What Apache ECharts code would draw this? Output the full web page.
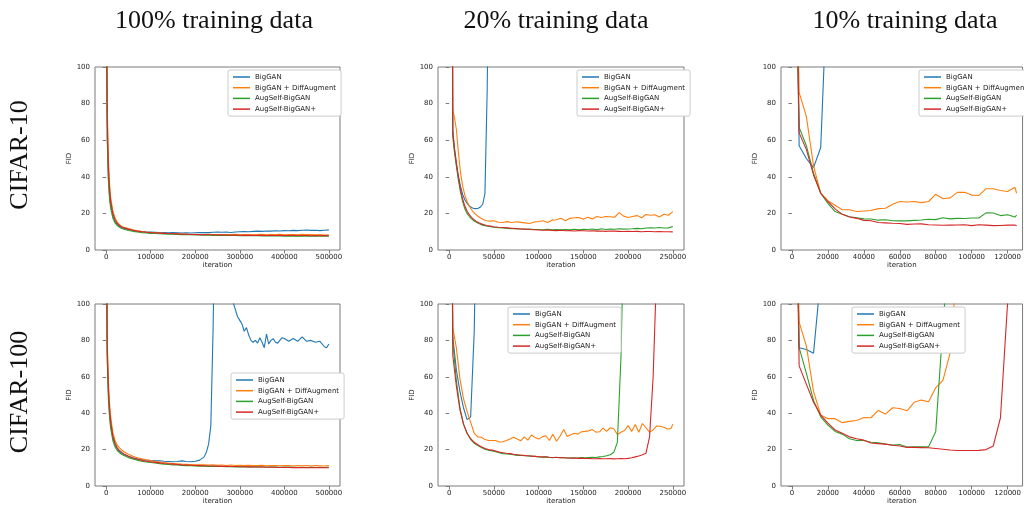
<!DOCTYPE html>
<html><head><meta charset="utf-8">
<script src="https://cdn.jsdelivr.net/npm/echarts@6/dist/echarts.min.js"></script>
<style>html,body{margin:0;padding:0;background:#fff}#c{width:1024px;height:506px}</style>
</head><body><div id="c"></div>
<script>
// ---------------- labels ----------------
const seriesNames = ['BigGAN', 'BigGAN + DiffAugment', 'AugSelf-BigGAN', 'AugSelf-BigGAN+'];
const seriesColors = ['#1f77b4', '#ff7f0e', '#2ca02c', '#d62728'];
const colTitles = ['100% training data', '20% training data', '10% training data'];
const rowTitles = ['CIFAR-10', 'CIFAR-100'];
const yTicks = [0, 20, 40, 60, 80, 100];
const xTicks100 = [0, 100000, 200000, 300000, 400000, 500000];
const xTicks20 = [0, 50000, 100000, 150000, 200000, 250000];
const xTicks10 = [0, 20000, 40000, 60000, 80000, 100000, 120000];

// ---------------- iterations ----------------
const iterFull = [0,2500,5000,7500,10000,15000,20000,25000,30000,35000,40000,50000,60000,70000,80000,90000,
  100000,110000,120000,130000,140000,150000,160000,170000,180000,190000,200000,210000,220000,230000,240000,
  250000,260000,270000,280000,290000,300000,310000,320000,330000,340000,350000,360000,370000,380000,390000,
  400000,410000,420000,430000,440000,450000,460000,470000,480000,490000,500000];
const iterFullBig100 = [0,2500,5000,7500,10000,15000,20000,25000,30000,35000,40000,50000,60000,70000,80000,90000,
  100000,110000,120000,130000,140000,150000,160000,170000,180000,190000,200000,
  210000,220000,225000,230000,235000,240000,245000,250000,260000,270000,280000,
  285000,290000,295000,300000,305000,310000,315000,320000,325000,330000,335000,340000,345000,350000,355000,
  360000,365000,370000,375000,380000,385000,390000,395000,400000,
  410000,420000,430000,440000,450000,460000,470000,480000,490000,495000,500000];
const iter20c10 = [2000,4000,6000,8000,10000,12500,15000,17500,20000,22500,25000,27500,30000,32500,35000,37500,40000,42500,45000,
  50000,55000,60000,65000,70000,75000,80000,85000,90000,95000,100000,105000,110000,115000,120000,125000,130000,
  135000,140000,145000,150000,155000,160000,165000,170000,175000,180000,185000,190000,195000,200000,205000,210000,
  215000,220000,225000,230000,235000,240000,245000,250000];
const iter20c100 = [0,4000,8000,12000,16000,20000,24000,28000,32000,36000,40000,44000,48000,52000,56000,60000,64000,
  68000,72000,76000,80000,84000,88000,92000,96000,100000,104000,108000,112000,116000,120000,124000,128000,132000,
  136000,140000,144000,148000,152000,156000,160000,164000,168000,172000,176000,180000,184000,188000,192000,196000,
  200000,204000,208000,212000,216000,220000,224000,228000,232000,236000,240000,244000,248000,250000];
const iter10 = [0,4000,8000,12000,16000,20000,24000,28000,32000,36000,40000,44000,48000,52000,56000,60000,64000,
  68000,72000,76000,80000,84000,88000,92000,96000,100000,104000,108000,112000,116000,120000,124000,125000];

// ---------------- CIFAR-10, 100% ----------------
const c10_100_bigGAN = [160,62,40,30,24.5,18.5,15.5,14,13,12.3,11.8,11.2,10.7,10.3,10.1,9.9,
  9.8,9.7,9.6,9.6,9.4,9.5,9.4,9.3,9.4,9.3,9.4,9.5,9.6,9.5,9.7,9.8,9.7,9.8,9.6,9.8,10.0,10.1,10.0,10.2,10.3,
  10.2,10.4,10.3,10.5,10.4,10.6,10.5,10.7,10.6,10.8,10.9,10.7,10.8,10.6,10.8,11.0];
const c10_100_diff = [160,78,50,37,29,21.5,17.5,15.2,13.8,12.9,12.4,11.7,11.1,10.5,10.1,9.8,
  9.6,9.4,9.3,9.1,9.0,8.9,8.8,8.6,8.7,8.5,8.6,8.4,8.5,8.6,8.4,8.5,8.3,8.5,8.4,8.6,8.3,8.4,8.5,8.3,8.4,
  8.6,8.3,8.5,8.4,8.6,8.3,8.4,8.5,8.3,8.6,8.4,8.5,8.3,8.4,8.2,8.3];
const c10_100_aug = [160,60,38,28.5,23,17.5,14.8,13.3,12.4,11.8,11.3,10.7,10.2,9.8,9.5,9.3,
  9.1,9.0,8.9,8.8,8.7,8.6,8.5,8.4,8.4,8.3,8.2,8.2,8.1,8.2,8.0,8.1,8.0,7.9,8.0,7.9,7.8,7.9,7.8,7.9,7.8,
  7.7,7.8,7.7,7.8,7.7,7.6,7.7,7.6,7.7,7.6,7.7,7.6,7.5,7.6,7.5,7.6];
const c10_100_augPlus = [160,72,46,34,27,20,16.5,14.5,13.4,12.6,12.1,11.4,10.8,10.3,10.0,9.7,
  9.5,9.4,9.2,9.1,9.0,8.9,8.8,8.7,8.6,8.5,8.5,8.4,8.4,8.3,8.3,8.2,8.3,8.2,8.1,8.2,8.1,8.0,8.1,8.0,8.1,
  8.0,7.9,8.0,7.9,8.0,7.9,7.9,8.0,7.8,7.9,7.9,7.8,7.9,7.8,7.9,7.8];

// ---------------- CIFAR-10, 20% ----------------
const c10_20_bigGAN = [400,66,55,47,41,35,30.5,27.5,25.5,24,23.2,22.7,22.6,22.8,23.5,25,31,88,200];
const c10_20_diff = [400,77,72,66,55,43,35,30,26.5,24,22,20.5,19.3,18.3,17.5,16.8,16.3,16,15.8,
  16,15.2,15,15.5,15,15.4,15.1,14.8,14.5,15.3,15.6,16,15,16.3,16.5,17.3,16,17.3,17.6,17.8,
  16.8,17.9,17,18.3,17.8,18.3,18.2,17.9,20.4,18.5,17.8,18.3,18.8,17.6,19.4,19,19.3,18,19.5,19,21];
const c10_20_aug = [400,62,53,46,39,32,26.5,22.5,20,18.3,17,16,15.3,14.6,14,13.6,13.3,13,12.8,
  12.4,12.2,12,11.8,11.7,11.6,11.5,11.3,11.4,11.2,11.2,11.1,11.3,11.1,11.2,11,11.2,11.1,11.3,11,
  11.3,11.2,11.5,11,11.6,11.2,11.4,11.3,11.6,11.4,11.5,11.6,11.8,11.6,12,12.1,12,12.3,12,12.1,12.8];
const c10_20_augPlus = [400,64,55,48,41,33.5,28,24,21.3,19.3,17.8,16.7,15.8,15,14.5,14,13.7,13.4,13.2,
  12.7,12.4,12.3,12.1,11.9,11.7,11.5,11.4,11.2,11.1,10.9,10.8,10.9,10.7,10.6,10.8,10.5,10.6,10.4,10.6,
  10.5,10.4,10.5,10.3,10.4,10.2,10.4,10.3,10.2,10.1,10.2,10.1,10.2,10,10.1,10.1,10,10.1,10,10,9.9];

// ---------------- CIFAR-10, 10% ----------------
const c10_10_bigGAN = [300,57,50,45,56,154];
const c10_10_diff = [300,86,73,46,31,27,24.5,22,22,21,21.3,21.6,22.6,22.8,25,26.5,26.2,26.5,25.9,26.5,
  30.5,28,28.5,31.5,31.5,30,29.8,33.5,33.5,32.5,32,34.3,31];
const c10_10_aug = [300,67,57,42,31,25.5,21,19.5,18.2,17.6,17,16.9,16.3,16.5,16,15.9,15.9,16.2,16.4,16.8,
  16.6,17.6,17,17.3,17.2,17.5,17.5,20.3,20.2,18.8,19.3,18,19];
const c10_10_augPlus = [300,64,55,41,31,26.5,22.5,19.5,18,17.3,16.2,16,15,14.8,14.6,14.5,14,14.2,14.3,13.8,
  13.7,13.5,13.6,13.7,13.8,13.3,13.8,13.6,13.3,13.4,13.6,13.6,13.2];

// ---------------- CIFAR-100, 100% ----------------
const c100_100_bigGAN = [160,72,52,41,34,26.5,22.5,20.5,19,18,17.3,16.3,15.5,14.9,14.5,14.2,
  14,13.8,13.9,13.6,13.5,13.3,13.5,13.8,13.5,13.3,13.6,
  14.2,16,18.5,23,33,85,160,220,230,190,120,
  101,97,93,91,89,85,87,83,80,79,80,78.5,81.5,79,76,83.5,78,80,81,79,78.5,80,81.5,81,
  79.5,81,79.5,82,79.5,80,79,79.5,76.5,76,78];
const c100_100_diff = [160,80,58,46,38.5,29.5,25,22.5,21,19.8,18.8,17.4,16.3,15.5,14.9,14.4,
  14,13.5,13.2,12.9,12.6,12.4,12.2,12,11.9,11.8,11.7,11.6,11.7,11.5,11.6,11.4,11.5,11.3,11.5,11.3,
  11.4,11.2,11.4,11.3,11.2,11.4,11.1,11.3,11.2,11.1,11.3,11.2,11.0,11.2,11.1,11.3,11.0,11.2,11.1,11.0,11.2];
const c100_100_aug = [160,68,48,38,32,25,21.5,19.5,18.3,17.4,16.7,15.6,14.8,14.1,13.6,13.2,
  12.9,12.6,12.3,12.0,11.8,11.6,11.5,11.3,11.2,11.1,11.0,10.9,10.9,10.8,10.8,10.7,10.7,10.6,10.6,10.5,
  10.6,10.5,10.5,10.4,10.5,10.4,10.4,10.3,10.4,10.3,10.3,10.4,10.3,10.2,10.3,10.2,10.3,10.2,10.3,10.2,10.3];
const c100_100_augPlus = [160,76,54,43,36,27.5,23.5,21,19.5,18.5,17.6,16.3,15.4,14.7,14.1,13.6,
  13.3,13.0,12.7,12.4,12.2,12.0,11.8,11.6,11.5,11.4,11.3,11.2,11.1,11.0,11.0,10.9,10.8,10.8,10.7,10.7,
  10.6,10.6,10.5,10.5,10.4,10.5,10.3,10.4,10.3,10.2,10.3,10.2,10.1,10.2,10.1,10.0,10.1,10.0,10.1,10.0,10.0];

// ---------------- CIFAR-100, 20% ----------------
const c100_20_bigGAN = [400,82,64,52,43,36.5,38,85,200];
const c100_20_diff = [400,87,76,59,48,41,35,29,27,26.8,25.5,25,25,25,24.2,24.3,25,25.8,26.8,25.8,
  24.8,27,25.2,28,26.6,25.8,27,27.6,25,28.5,24.6,27.5,31,27.2,28.2,29,28.5,29.8,30,30.3,
  31,29.6,29.8,31.8,30,32,31.5,28.3,29.5,30.5,33.2,30,33.8,29.5,34.3,32,29.6,30.8,33,32.8,
  32.3,31.3,31.5,34];
const c100_20_aug = [400,80,58,43,34,29,25.5,23.5,22.2,21.2,20.2,19.6,19.3,18.9,18.3,17.8,17.6,17.5,17.2,16.8,
  16.9,16.6,16.5,16.4,16.3,16,15.8,16,15.7,15.6,15.8,15.5,15.6,15.4,15.4,15.5,15.4,15.6,15.5,15.7,
  15.8,15.7,16,16.2,16.6,17.2,18.5,24,70,160];
const c100_20_augPlus = [400,72,55,42,34,29,26,24,22.7,21.6,20.6,20,19.7,19.2,18.6,18.3,18,17.8,17.4,17.2,
  16.9,16.8,16.6,16.4,16.3,16.1,16,16.1,15.8,15.7,15.7,15.6,15.5,15.4,15.3,15.4,15.2,15.3,15.1,15.2,
  15,15,15.1,15,15,15.1,14.9,15,15.1,15,15.2,15.5,16,16.5,17.2,18,27,60,120];

// ---------------- CIFAR-100, 10% ----------------
const c100_10_bigGAN = [300,76,75,73,115];
const c100_10_diff = [300,90,77,52,39,37,37,34.8,35.5,36,37.6,37.5,41.5,39.5,43,42.6,41.3,46,47.2,46.3,
  54,58,73,122];
const c100_10_aug = [300,76,62,47,38,33.5,30,28.5,26,25,25,24,23.8,23,22.5,22.8,21.4,21.5,21.6,21.5,
  30,88,140];
const c100_10_augPlus = [300,66,56,46,39,34.5,30.8,29,27,26,25.2,23.6,23.3,23,22.4,22,21.2,21.2,21.1,21,
  20.6,20.2,19.8,19.5,19.5,19.5,19.6,20,22,37.5,101,200];

// ---------------- layout ----------------
const panels = [
  {grid: {left: 95, top: 67, width: 245, height: 183}, xmin: -25000, xmax: 525000, ticks: xTicks100,
   lines: [[iterFull, c10_100_bigGAN], [iterFull, c10_100_diff], [iterFull, c10_100_aug], [iterFull, c10_100_augPlus]],
   legend: {left: 228, top: 70}},
  {grid: {left: 438, top: 67, width: 246, height: 183}, xmin: -12500, xmax: 262500, ticks: xTicks20,
   lines: [[iter20c10, c10_20_bigGAN], [iter20c10, c10_20_diff], [iter20c10, c10_20_aug], [iter20c10, c10_20_augPlus]],
   legend: {left: 577, top: 70}},
  {grid: {left: 781, top: 67, width: 242, height: 183}, xmin: -6100, xmax: 128300, ticks: xTicks10,
   lines: [[iter10, c10_10_bigGAN], [iter10, c10_10_diff], [iter10, c10_10_aug], [iter10, c10_10_augPlus]],
   legend: {left: 919, top: 70}},
  {grid: {left: 95, top: 304, width: 245, height: 183}, xmin: -25000, xmax: 525000, ticks: xTicks100,
   lines: [[iterFullBig100, c100_100_bigGAN], [iterFull, c100_100_diff], [iterFull, c100_100_aug], [iterFull, c100_100_augPlus]],
   legend: {left: 231, top: 373}},
  {grid: {left: 438, top: 304, width: 246, height: 183}, xmin: -12500, xmax: 262500, ticks: xTicks20,
   lines: [[iter20c100, c100_20_bigGAN], [iter20c100, c100_20_diff], [iter20c100, c100_20_aug], [iter20c100, c100_20_augPlus]],
   legend: {left: 508, top: 307}},
  {grid: {left: 781, top: 304, width: 242, height: 183}, xmin: -6100, xmax: 128300, ticks: xTicks10,
   lines: [[iter10, c100_10_bigGAN], [iter10, c100_10_diff], [iter10, c100_10_aug], [iter10, c100_10_augPlus]],
   legend: {left: 852, top: 307}}
];

const FONT = 'DejaVu Sans';
const SPINE = '#7a7a7a';
const grids = [], xAxes = [], yAxes = [], series = [], legends = [];
panels.forEach((p, k) => {
  grids.push(Object.assign({show: true, borderColor: SPINE, borderWidth: 1, backgroundColor: 'transparent'}, p.grid));
  xAxes.push({
    type: 'value', gridIndex: k, min: p.xmin, max: p.xmax,
    name: 'iteration', nameLocation: 'middle', nameGap: 12,
    nameTextStyle: {fontFamily: FONT, fontSize: 7, color: '#222'},
    axisLine: {show: false},
    axisTick: {show: true, customValues: p.ticks, length: 3.5, lineStyle: {color: SPINE, width: 1}},
    axisLabel: {show: true, customValues: p.ticks, margin: 3.5, fontFamily: FONT, fontSize: 7, color: '#222',
      formatter: v => String(v)},
    splitLine: {show: false}
  });
  yAxes.push({
    type: 'value', gridIndex: k, min: 0, max: 100, interval: 20,
    name: 'FID', nameLocation: 'middle', nameGap: 20,
    nameTextStyle: {fontFamily: FONT, fontSize: 7, color: '#222'},
    axisLine: {show: false},
    axisTick: {show: true, length: 3.5, lineStyle: {color: SPINE, width: 1}},
    axisLabel: {show: true, margin: 5, fontFamily: FONT, fontSize: 7, color: '#222', formatter: v => String(v)},
    splitLine: {show: false}
  });
  p.lines.forEach((ln, s) => {
    const xs = ln[0], ys = ln[1];
    series.push({
      type: 'line', name: seriesNames[s], xAxisIndex: k, yAxisIndex: k,
      data: ys.map((y, i) => [xs[i], y]),
      symbol: 'none', showSymbol: false, clip: true, smooth: false,
      lineStyle: {color: seriesColors[s], width: 1.1},
      itemStyle: {color: seriesColors[s]},
      emphasis: {disabled: true}, silent: true, animation: false
    });
  });
  legends.push({
    orient: 'vertical', left: p.legend.left, top: p.legend.top,
    data: seriesNames, icon: 'rect', itemWidth: 17, itemHeight: 1.5, itemGap: 2.7,
    textStyle: {fontFamily: FONT, fontSize: 7, color: '#222', lineHeight: 8},
    backgroundColor: '#fff', borderColor: '#cccccc', borderWidth: 1, borderRadius: 2,
    padding: [3, 5, 3, 5], selectedMode: false, z: 10
  });
});

const graphics = [];
const colX = [214, 556, 905];
colTitles.forEach((t, i) => graphics.push({
  type: 'text', x: colX[i], y: 21, z: 20,
  style: {text: t, font: '26px "Liberation Serif"', fill: '#111', textAlign: 'center', textVerticalAlign: 'middle'}
}));
const rowY = [155, 392];
rowTitles.forEach((t, i) => graphics.push({
  type: 'text', x: 20, y: rowY[i], rotation: Math.PI / 2, z: 20,
  style: {text: t, font: '26px "Liberation Serif"', fill: '#111', textAlign: 'center', textVerticalAlign: 'middle'}
}));

const chart = echarts.init(document.getElementById('c'), null, {renderer: 'canvas'});
chart.setOption({
  animation: false,
  backgroundColor: '#fff',
  grid: grids, xAxis: xAxes, yAxis: yAxes, series: series, legend: legends,
  graphic: graphics
});
</script></body></html>
